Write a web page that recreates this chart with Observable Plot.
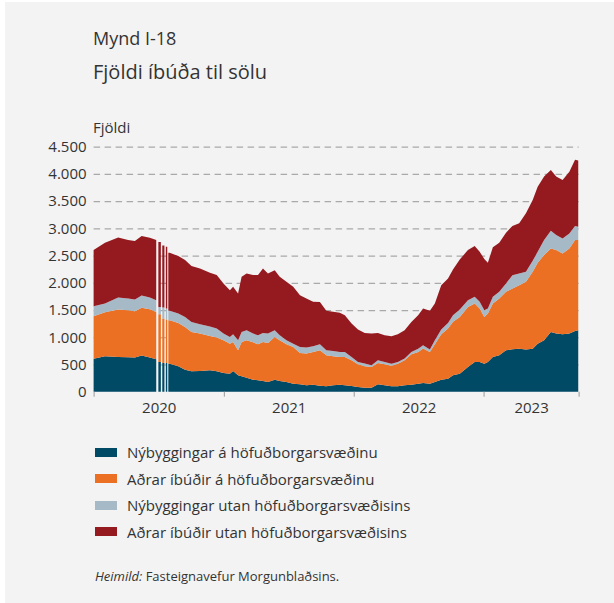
<!DOCTYPE html>
<html>
<head>
<meta charset="utf-8">
<script src="https://cdn.jsdelivr.net/npm/d3@7"></script>
<script src="https://cdn.jsdelivr.net/npm/@observablehq/plot@0.6"></script>
<style>
  html, body { margin: 0; padding: 0; background: #ffffff; }
  body { width: 614px; height: 603px; position: relative; overflow: hidden; font-family: "Open Sans", sans-serif; color: #333; }
  #bg { position: absolute; left: 5px; top: 2px; right: 0; bottom: 0; background: #f3f3f3; }
  .t { position: absolute; white-space: nowrap; }
  #chart { position: absolute; left: 0; top: 110px; }
  .sw { position: absolute; width: 22px; height: 9px; }
</style>
</head>
<body>
<div id="bg"></div>
<div class="t" style="left:93px; top:27px; font-size:18px; line-height:22px;">Mynd I-18</div>
<div class="t" style="left:93px; top:60px; font-size:20px; line-height:24px;">Fjöldi íbúða til sölu</div>
<div class="t" style="left:93px; top:118px; font-size:15px; line-height:18px;">Fjöldi</div>
<div id="chart"></div>
<div id="legend"></div>
<div class="t" style="left:95px; top:567px; font-size:13px; line-height:18px;"><i>Heimild:</i> Fasteignavefur Morgunblaðsins.</div>
<script>
// ---- Data ----
const seriesNames = [
  "Nýbyggingar á höfuðborgarsvæðinu",
  "Aðrar íbúðir á höfuðborgarsvæðinu",
  "Nýbyggingar utan höfuðborgarsvæðisins",
  "Aðrar íbúðir utan höfuðborgarsvæðisins"
];
const seriesColors = ["#004a65", "#ec7023", "#a6b9c7", "#951a20"];

const dates = [
  "2020-01-01","2020-02-02","2020-03-10","2020-04-07","2020-04-26","2020-05-15","2020-06-07","2020-06-25",
  "2020-06-28","2020-07-01","2020-07-08","2020-07-10","2020-07-12","2020-07-18","2020-07-20","2020-07-22",
  "2020-07-26","2020-07-28","2020-07-29","2020-08-02","2020-08-26","2020-09-14","2020-10-02","2020-10-26",
  "2020-11-23","2020-12-12","2020-12-31","2021-01-18","2021-01-27","2021-02-10","2021-02-20","2021-03-06",
  "2021-03-24","2021-04-07","2021-04-21","2021-05-05","2021-05-24","2021-06-07","2021-06-26","2021-07-15",
  "2021-08-03","2021-08-21","2021-09-09","2021-09-28","2021-10-16","2021-11-04","2021-11-23","2021-12-07",
  "2021-12-26","2022-01-13","2022-02-01","2022-02-20","2022-03-10","2022-03-29","2022-04-17","2022-05-05",
  "2022-05-24","2022-06-12","2022-07-01","2022-07-15","2022-08-03","2022-08-17","2022-09-04","2022-09-23",
  "2022-10-07","2022-10-26","2022-11-18","2022-12-07","2022-12-21","2023-01-03","2023-01-13","2023-01-27",
  "2023-02-14","2023-03-05","2023-03-23","2023-04-11","2023-04-30","2023-05-19","2023-06-02","2023-06-20",
  "2023-07-09","2023-07-24","2023-08-11","2023-08-30","2023-09-15","2023-09-24"
];
// null = missing days in the source (white gaps)
const nyHofud = [
  607,650,638,632,626,663,626,595,
  null,546,546,null,528,528,null,528,
  528,null,515,515,466,405,374,380,
  393,374,344,331,380,301,282,258,
  221,209,196,178,221,196,178,147,
  135,117,129,110,98,117,129,117,
  104,86,74,74,135,117,98,98,
  117,129,147,160,147,178,221,239,
  301,331,454,546,546,515,546,638,
  669,761,779,791,773,791,883,945,
  1098,1067,1055,1067,1117,1129
];
const adrarHofud = [
  779,810,871,865,853,877,890,871,
  null,877,877,null,816,816,null,798,
  798,null,798,798,798,785,724,687,
  632,620,601,552,534,460,632,687,
  687,663,718,718,785,748,693,675,
  577,583,601,650,571,534,509,521,
  472,417,393,380,393,387,380,417,
  460,558,583,632,583,693,834,920,
  982,1043,1104,1074,982,859,890,982,
  1043,1074,1117,1166,1245,1411,1485,1564,
  1534,1534,1485,1564,1669,1656
];
const nyUtan = [
  184,160,221,215,215,227,215,215,
  null,135,135,null,202,202,null,202,
  202,null,172,172,172,184,184,172,
  172,166,123,123,141,184,184,184,
  160,166,166,172,123,92,74,61,
  110,110,104,110,92,98,92,92,
  61,43,49,31,49,43,37,31,
  31,43,61,61,43,74,86,104,
  123,135,123,123,123,123,92,123,
  123,153,245,215,184,202,202,276,
  325,276,276,276,258,245
];
const adrarUtan = [
  1031,1117,1104,1074,1074,1092,1098,1104,
  null,1190,1190,null,1141,1141,null,1135,
  1135,null,1067,1067,1055,1043,1025,1025,
  988,982,920,859,871,859,1012,1043,
  1074,1104,1184,1104,1104,1074,1074,1043,
  951,902,816,779,724,718,718,675,
  614,595,564,583,503,491,503,509,
  521,552,614,675,712,675,816,816,
  840,920,920,933,920,939,840,908,
  902,933,902,920,1074,1117,1196,1166,
  1117,1074,1074,1135,1215,1215
];
const yTicks = [0, 500, 1000, 1500, 2000, 2500, 3000, 3500, 4000, 4500];
const gridTicks = [500, 1000, 1500, 2000, 2500, 3000, 3500, 4000, 4500];
const yearBoundaries = ["2020-01-01", "2021-01-01", "2022-01-01", "2023-01-01", "2023-09-25"];
const yearLabels = ["2020", "2021", "2022", "2023"];

// ---- Build stacked rows ----
const seriesValues = [nyHofud, adrarHofud, nyUtan, adrarUtan];
const rows = [];
dates.forEach((ds, i) => {
  const date = new Date(ds + "T00:00:00Z");
  let acc = 0;
  seriesValues.forEach((vals, s) => {
    const v = vals[i];
    if (v == null) {
      rows.push({date, series: seriesNames[s], y1: NaN, y2: NaN});
    } else {
      rows.push({date, series: seriesNames[s], y1: acc, y2: acc + v});
      acc += v;
    }
  });
});

const bounds = yearBoundaries.map(d => new Date(d + "T00:00:00Z"));
const labelPos = yearLabels.map((y, i) => ({date: new Date((+bounds[i] + +bounds[i + 1]) / 2), label: y}));

const fmt = d3.formatLocale({decimal: ",", thousands: ".", grouping: [3], currency: ["", ""]}).format(",");

const chart = Plot.plot({
  width: 614,
  height: 310,
  marginLeft: 93.6,
  marginRight: 35.4,
  marginTop: 36.7,
  marginBottom: 28.3,
  style: {fontFamily: "Open Sans, sans-serif", fontSize: "15px", color: "#333", background: "transparent", overflow: "visible"},
  x: {type: "utc", domain: [bounds[0], bounds[bounds.length - 1]]},
  y: {domain: [0, 4500]},
  color: {domain: seriesNames, range: seriesColors},
  marks: [
    Plot.ruleY(gridTicks, {stroke: "#a9a9a9", strokeWidth: 1.2, strokeDasharray: "6.5,4.5"}),
    Plot.areaY(rows, {x: "date", y1: "y1", y2: "y2", fill: "series", z: "series"}),
    Plot.axisY(yTicks, {tickSize: 0, tickPadding: 7.5, tickFormat: fmt, fontSize: 15, fill: "#333"}),
    Plot.axisX(bounds, {anchor: "bottom", tickSize: 5, tickFormat: () => "", stroke: "#999", strokeOpacity: 1}),
    Plot.axisX(labelPos.map(d => d.date), {anchor: "bottom", tickSize: 0, tickPadding: 10, tickFormat: (d) => labelPos.find(p => +p.date === +d).label, fontSize: 15, fill: "#333"})
  ]
});
document.getElementById("chart").appendChild(chart);

// ---- Legend ----
const legend = document.getElementById("legend");
const legendCenters = [452, 478.5, 505, 531.5];
seriesNames.forEach((name, i) => {
  const sw = document.createElement("div");
  sw.className = "sw";
  sw.style.left = "95px";
  sw.style.top = (legendCenters[i] - 4.5) + "px";
  sw.style.background = seriesColors[i];
  legend.appendChild(sw);
  const t = document.createElement("div");
  t.className = "t";
  t.style.left = "127px";
  t.style.top = (legendCenters[i] - 11) + "px";
  t.style.fontSize = "15px";
  t.style.lineHeight = "22px";
  t.textContent = name;
  legend.appendChild(t);
});
</script>
</body>
</html>
